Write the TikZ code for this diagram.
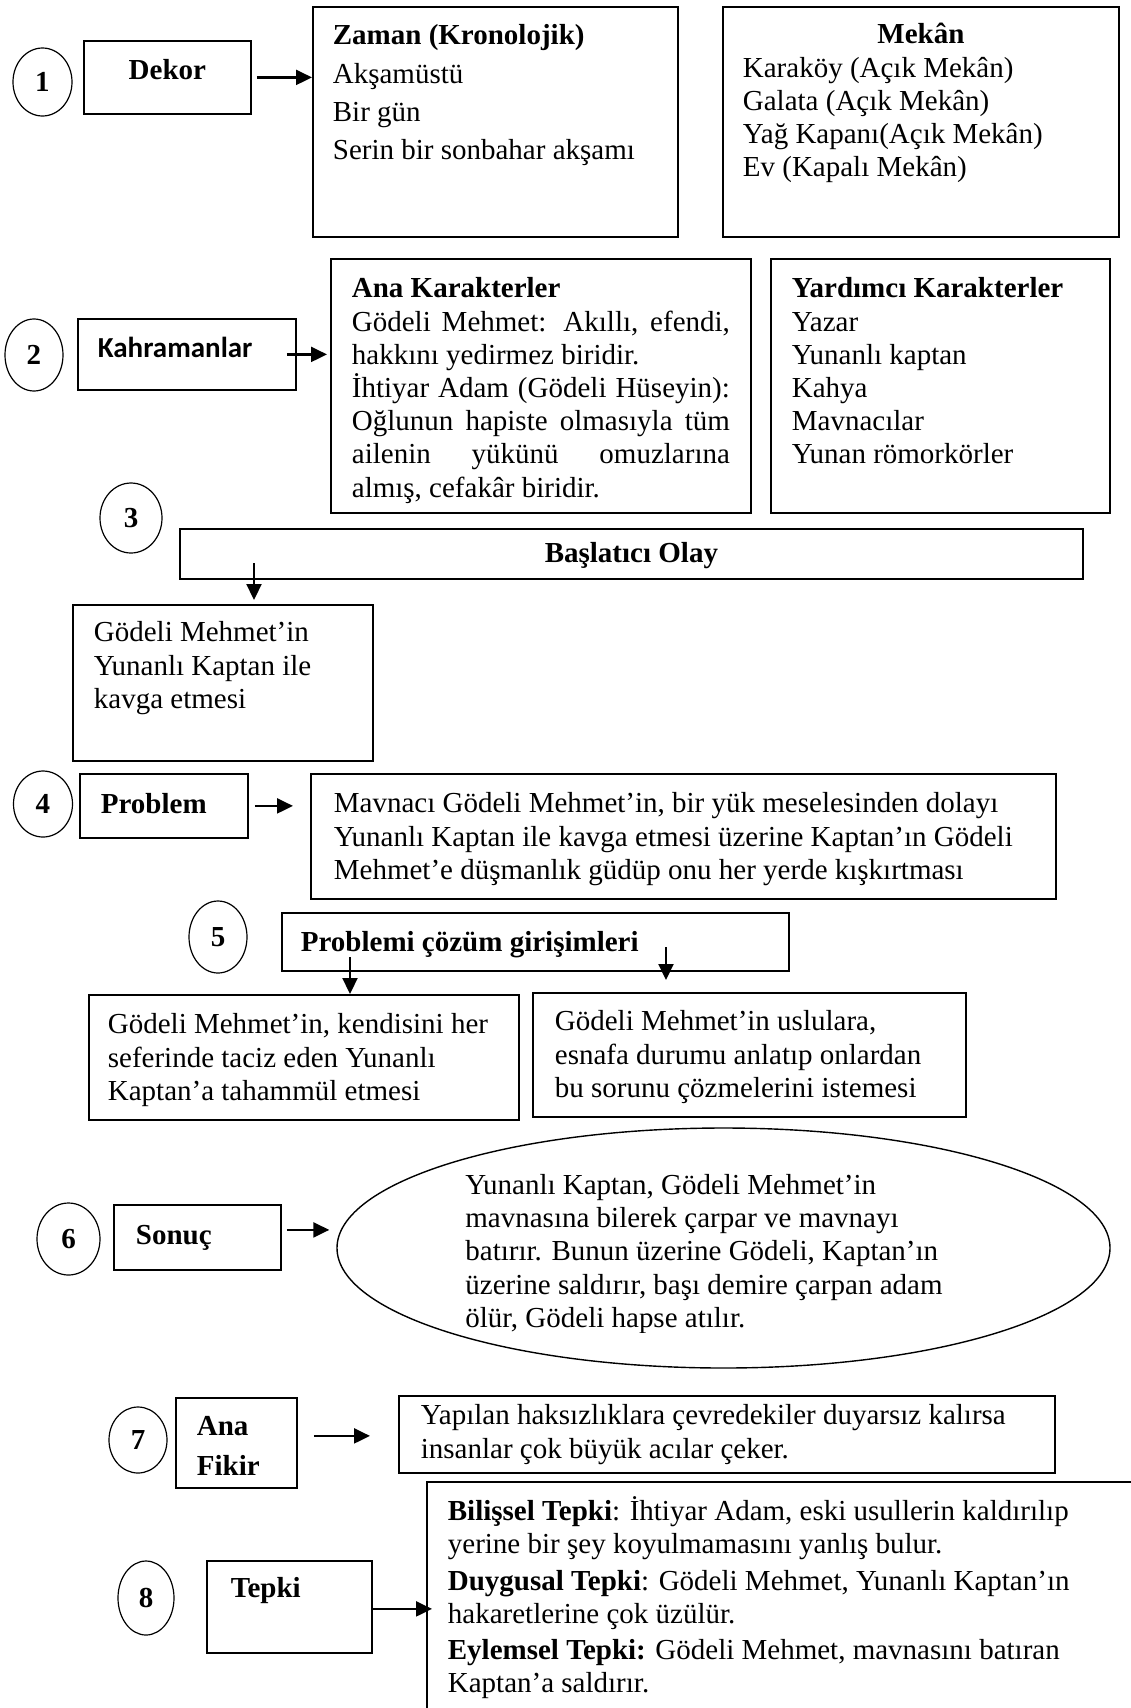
\documentclass[tikz,border=0pt]{standalone}
\usepackage{fontspec}
\setmainfont{Liberation Serif}
\newfontfamily\calibrifont{Carlito}
\usetikzlibrary{positioning, arrows.meta, shapes.geometric}

\newdimen\pxu \pxu=0.5pt
% box text: width, height, top gap (in px), content
\newcommand{\topbox}[4]{\begin{minipage}[c][#2\pxu][t]{#1\pxu}\vspace*{#3\pxu}\strut#4\end{minipage}}
\hbadness=10000

\begin{document}
\begin{tikzpicture}[x=0.5pt, y=-0.5pt,
    every node/.style={font=\fontsize{14.5pt}{16.6pt}\selectfont},
    frame/.style={rectangle, draw, line width=0.9pt, anchor=north west, inner ysep=0pt},
    tag/.style={frame, font=\fontsize{14.5pt}{16.6pt}\selectfont\bfseries},
    numcirc/.style={ellipse, draw, line width=0.6pt, inner sep=0pt, font=\fontsize{14.5pt}{16.6pt}\selectfont\bfseries},
    arr/.style={-{Triangle[length=8pt, width=7.5pt]}, line width=1.1pt}]
  \fill[white] (0,0) rectangle (1130,1708);
  \useasboundingbox (0,0) rectangle (1130,1708);

  % 1 Dekor
  \node[numcirc, minimum width=29.5pt, minimum height=34pt] (n1) at (42.5,82) {1};
  \node[tag, inner xsep=0pt] (dekor) at (83,40) {\topbox{167}{73}{15.8}{\centering Dekor}};
  \node[frame, inner xsep=10pt] (zaman) at (312,6) {\topbox{325}{230}{14.8}{\textbf{Zaman (Kronolojik)}\\[5.5\pxu]
      Akşamüstü\\[4.5\pxu] Bir gün\\[4.5\pxu] Serin bir sonbahar akşamı}};
  \node[frame, inner xsep=10pt] (mekan) at (722,6) {\topbox{356}{230}{13.8}{{\centering\textbf{Mekân}\par}
      Karaköy (Açık Mekân)\\ Galata (Açık Mekân)\\ Yağ Kapanı(Açık Mekân)\\ Ev (Kapalı Mekân)}};

  % 2 Kahramanlar
  \node[numcirc, minimum width=29pt, minimum height=36pt] (n2) at (34,355) {2};
  \node[tag, inner xsep=10pt, font=\fontsize{14.5pt}{16.6pt}\selectfont\calibrifont\bfseries] (kahraman) at (77,318) {\topbox{178}{71}{15.8}{Kahramanlar}};
  \node[frame, inner xsep=10.5pt] (ana) at (330,258) {\topbox{378}{254}{15.8}{\textbf{Ana Karakterler}\\
      Gödeli Mehmet: Akıllı, efendi,\linebreak hakkını yedirmez biridir.\par
      İhtiyar Adam (Gödeli Hüseyin):\linebreak Oğlunun hapiste olmasıyla tüm\linebreak
      ailenin yükünü omuzlarına\linebreak almış, cefakâr biridir.}};
  \node[frame, inner xsep=10.5pt] (yardimci) at (770,258) {\topbox{297}{254}{15.8}{\textbf{Yardımcı Karakterler}\\
      Yazar\\ Yunanlı kaptan\\ Kahya\\ Mavnacılar\\ Yunan römorkörler}};

  % 3 Başlatıcı olay
  \node[numcirc, minimum width=31pt, minimum height=35pt] (n3) at (131,518) {3};
  \node[tag, inner xsep=0pt] (olay) at (179,528) {\topbox{903}{50}{10.8}{\centering Başlatıcı Olay}};
  \node[frame, inner xsep=10.5pt] (gm) at (72,604) {\topbox{258}{156}{13.8}{Gödeli Mehmet’in\\
      Yunanlı Kaptan ile\\ kavga etmesi}};

  % 4 Problem
  \node[numcirc, minimum width=29.5pt, minimum height=33pt] (n4) at (43,804) {4};
  \node[tag, inner xsep=10.5pt] (problem) at (79,773) {\topbox{126}{64}{16.8}{Problem}};
  \node[frame, inner xsep=11.5pt] (ptext) at (310,773) {\topbox{699}{125}{15.8}{Mavnacı Gödeli Mehmet’in, bir yük meselesinden dolayı\\
      Yunanlı Kaptan ile kavga etmesi üzerine Kaptan’ın Gödeli\\
      Mehmet’e düşmanlık güdüp onu her yerde kışkırtması}};

  % 5 Çözüm girişimleri
  \node[numcirc, minimum width=29pt, minimum height=36pt] (n5) at (218,937) {5};
  \node[tag, inner xsep=9.5pt] (pcoz) at (281,912) {\topbox{469}{58}{15.8}{Problemi çözüm girişimleri}};
  \node[frame, inner xsep=9.5pt] (cozL) at (88,994) {\topbox{392}{125}{15.8}{Gödeli Mehmet’in, kendisini her\\
      seferinde taciz eden Yunanlı\\ Kaptan’a tahammül etmesi}};
  \node[frame, inner xsep=11pt] (cozR) at (532,992) {\topbox{389}{124}{14.8}{Gödeli Mehmet’in uslulara,\\
      esnafa durumu anlatıp onlardan\\ bu sorunu çözmelerini istemesi}};

  % 6 Sonuç
  \node[numcirc, minimum width=31.5pt, minimum height=36pt] (n6) at (68.5,1239) {6};
  \node[tag, inner xsep=11pt] (sonuc) at (113,1204) {\topbox{123}{65}{16.8}{Sonuç}};
  \node[ellipse, draw, line width=0.7pt, inner sep=0pt, minimum width=386.5pt, minimum height=120pt] (sonucell) at (723.5,1248) {};
  \begin{scope}
    \clip (340,1100) rectangle (1110,1332);
    \node[anchor=north west, inner sep=0pt] (sonuctxt) at (465,1160) {\topbox{560}{180}{10.8}{Yunanlı Kaptan, Gödeli Mehmet’in\\
        mavnasına bilerek çarpar ve mavnayı\\ batırır. Bunun üzerine Gödeli, Kaptan’ın\\
        üzerine saldırır, başı demire çarpan adam\\ ölür, Gödeli hapse atılır.}};
  \end{scope}

  % 7 Ana fikir
  \node[numcirc, minimum width=29pt, minimum height=33pt] (n7) at (138,1440) {7};
  \node[tag, inner xsep=10.5pt] (anafikir) at (175,1397) {\topbox{79}{90}{14.8}{Ana\\[6\pxu] Fikir}};
  \node[frame, inner xsep=11pt] (afikir) at (398,1395) {\topbox{612}{77}{5.8}{Yapılan haksızlıklara çevredekiler duyarsız kalırsa\\
      insanlar çok büyük acılar çeker.}};

  % 8 Tepki
  \node[numcirc, minimum width=28pt, minimum height=37pt] (n8) at (146,1598) {8};
  \node[tag, inner xsep=12pt] (tepki) at (206,1560) {\topbox{117}{92}{13.8}{Tepki}};
  \node[frame, inner xsep=10.5pt] (tepkibig) at (426,1481) {\topbox{678}{240}{14.8}{\textbf{Bilişsel Tepki}: İhtiyar Adam, eski usullerin kaldırılıp\\
      yerine bir şey koyulmamasını yanlış bulur.\\[3\pxu]
      \textbf{Duygusal Tepki}: Gödeli Mehmet, Yunanlı Kaptan’ın\\ hakaretlerine çok üzülür.\\[3\pxu]
      \textbf{Eylemsel Tepki:} Gödeli Mehmet, mavnasını batıran\\ Kaptan’a saldırır.}};

  % Arrows
  \draw[arr, shorten <=2.5pt] (dekor.east) -- (dekor.east -| zaman.west);
  \draw[arr, shorten >=1.5pt] ([xshift=-5pt]kahraman.east) -- (kahraman.east -| ana.west);
  \coordinate (olaydown) at (254,563);
  \draw[arr, shorten >=2pt] (olaydown) -- (olaydown |- gm.north);
  \draw[arr, shorten <=3pt, shorten >=8.5pt] (problem.east) -- (problem.east -| ptext.west);
  \coordinate (cozleft) at (350,957);
  \coordinate (cozright) at (666,947);
  \draw[arr] (cozleft) -- (cozleft |- cozL.north);
  \draw[arr, shorten >=6pt] (cozright) -- (cozright |- cozR.north);
  \draw[arr, shorten <=2.5pt, shorten >=3.5pt] ([yshift=3.75pt]sonuc.east) -- ([yshift=3.75pt]sonuc.east -| sonucell.west);
  \draw[arr, shorten <=8pt, shorten >=14pt] ([yshift=3.5pt]anafikir.east) -- ([yshift=3.5pt]anafikir.east -| afikir.west);
  \draw[arr, shorten >=-3pt] ([yshift=-1pt]tepki.east) -- ([yshift=-1pt]tepki.east -| tepkibig.west);
\end{tikzpicture}
\end{document}
